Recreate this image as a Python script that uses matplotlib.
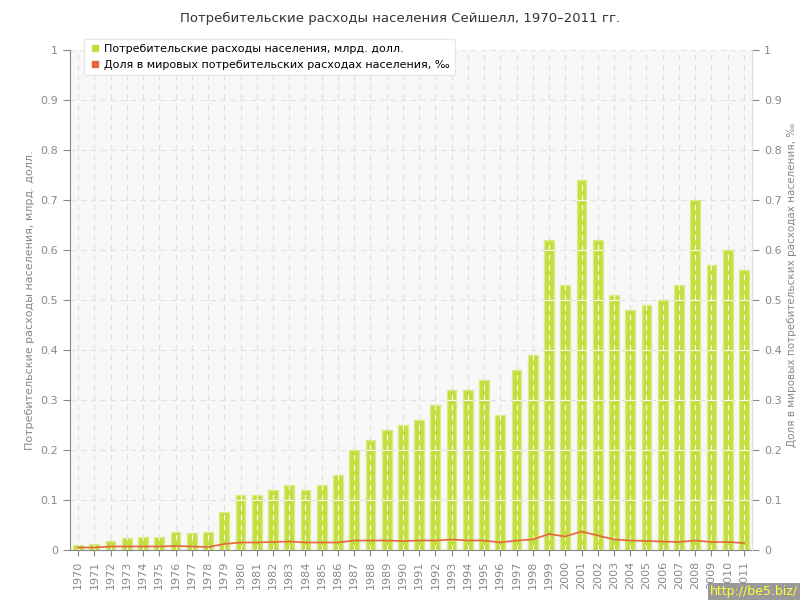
import numpy as np
import matplotlib
matplotlib.use("Agg")
import matplotlib.pyplot as plt
from matplotlib.ticker import FuncFormatter

# данные
years = list(range(1970, 2012))
spending = [0.010, 0.013, 0.018, 0.024, 0.027, 0.027, 0.036, 0.035, 0.037, 0.077,
            0.11, 0.11, 0.12, 0.13, 0.12, 0.13, 0.15, 0.20, 0.22, 0.24,
            0.25, 0.26, 0.29, 0.32, 0.32, 0.34, 0.27, 0.36, 0.39, 0.62,
            0.53, 0.74, 0.62, 0.51, 0.48, 0.49, 0.50, 0.53, 0.70, 0.57,
            0.60, 0.56]
share = [0.005, 0.005, 0.007, 0.007, 0.007, 0.007, 0.008, 0.007, 0.006, 0.012,
         0.015, 0.015, 0.016, 0.017, 0.015, 0.015, 0.015, 0.019, 0.019, 0.019,
         0.018, 0.019, 0.019, 0.021, 0.019, 0.019, 0.015, 0.019, 0.021, 0.032,
         0.027, 0.037, 0.029, 0.021, 0.019, 0.018, 0.017, 0.016, 0.019, 0.016,
         0.016, 0.014]
yticks = [0, 0.1, 0.2, 0.3, 0.4, 0.5, 0.6, 0.7, 0.8, 0.9, 1]

titulo = "Потребительские расходы населения Сейшелл, 1970–2011 гг."
lab1 = "Потребительские расходы населения, млрд. долл."
lab2 = "Доля в мировых потребительских расходах населения, ‰"

gris = "#888888"
verde = "#c3de3f"
naranja = "#e8643c"
bw = 0.6

fig = plt.figure(figsize=(8, 6), dpi=100)
ax = fig.add_axes([70/800, 1 - 550/600, 682/800, 500/600])
ax.set_facecolor("#f8f8f8")

x = np.arange(len(years))
ax.bar(x, spending, width=bw, color=verde, edgecolor="#d9ec8a", linewidth=1.0, zorder=2, label=lab1)

# rejilla gris debajo de las barras
dash = (0, (5, 4))
for yy in yticks[1:]:
    ax.axhline(yy, color="#e2e2e2", lw=0.8, ls=dash, zorder=1)
for xx in x:
    ax.axvline(xx, color="#e0e0e0", lw=0.8, ls=dash, zorder=1)
# y blanca solo encima de las barras
ax.vlines(x, 0, spending, color="white", lw=0.8, ls=dash, zorder=3, alpha=0.9)
for xx, v in zip(x, spending):
    for yy in yticks[1:]:
        if yy < v:
            ax.hlines(yy, xx - bw/2, xx + bw/2, color="white", lw=0.8, zorder=3, alpha=0.9)

ax.set_xlim(-0.5, len(years) - 0.5)
ax.set_ylim(0, 1)
ax.set_xticks(x)
ax.set_xticklabels([str(a) for a in years], rotation=90, fontsize=8, color=gris)
ax.set_yticks(yticks)
fmt = FuncFormatter(lambda v, p: "%g" % v)
ax.yaxis.set_major_formatter(fmt)
ax.tick_params(axis="y", colors=gris, labelsize=8, length=5, direction="out")
ax.tick_params(axis="x", colors=gris, length=4, direction="out")
for s in ["top", "right"]:
    ax.spines[s].set_visible(False)
ax.spines["left"].set_color(gris)
ax.spines["bottom"].set_color(gris)
ax.set_ylabel(lab1, color=gris, fontsize=8)

ax2 = ax.twinx()
ax2.plot(x, share, color=naranja, lw=1.2, zorder=4, label=lab2)
ax2.set_ylim(0, 1)
ax2.set_yticks(yticks)
ax2.yaxis.set_major_formatter(fmt)
ax2.tick_params(axis="y", colors=gris, labelsize=8, length=5, direction="out")
for s in ["top", "left", "bottom"]:
    ax2.spines[s].set_visible(False)
ax2.spines["right"].set_color("#dddddd")
fig.text(792/800, 1 - 285/600, lab2, color=gris, fontsize=7.5, rotation=90, ha="center", va="center")

# leyenda
h1 = plt.Line2D([], [], marker="s", ls="", color=verde, markersize=5)
h2 = plt.Line2D([], [], marker="s", ls="", color=naranja, markersize=5)
leg = fig.legend([h1, h2], [lab1, lab2], loc="upper left", bbox_to_anchor=(78/800, 1 - 33/600),
                 fontsize=8, frameon=True, fancybox=True, shadow=False, handletextpad=0.3,
                 borderpad=0.5, labelspacing=0.5, handlelength=1.0)
leg.get_frame().set_edgecolor("#e8e8e8")
leg.get_frame().set_facecolor("white")
leg.get_frame().set_alpha(1)
leg.set_zorder(10)

fig.text(0.5, 1 - 18/600, titulo, ha="center", va="center", fontsize=9.5, color="#333333")
fig.text(798/800, 2/600, "http://be5.biz/", ha="right", va="bottom", fontsize=9, color="#ffff33",
         bbox=dict(boxstyle="square,pad=0.15", facecolor="#999999", edgecolor="none"))

fig.savefig("out.png", dpi=100)
